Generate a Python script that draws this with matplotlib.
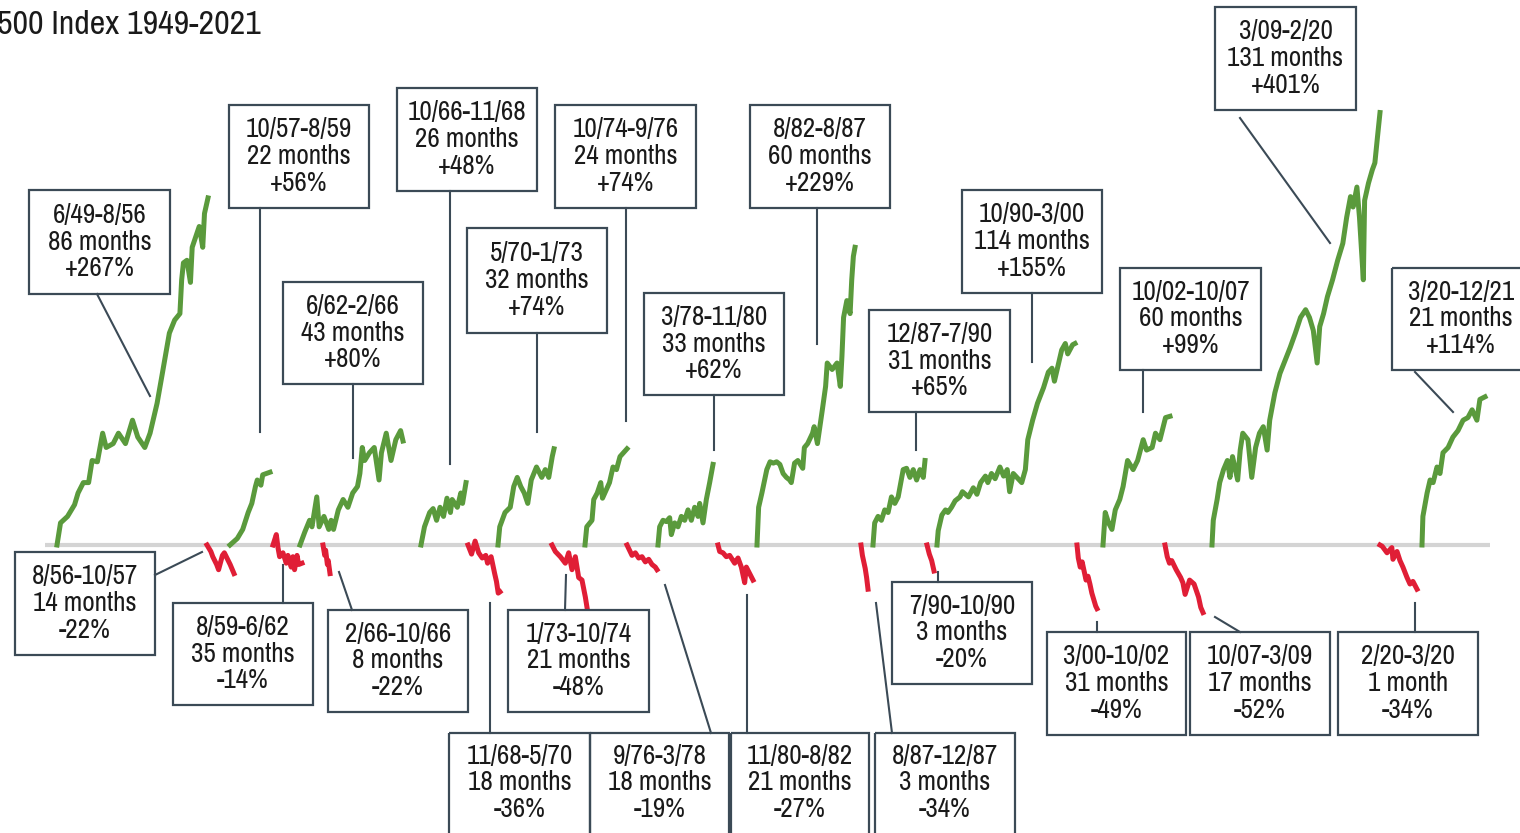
import numpy as np
import matplotlib.pyplot as plt
from matplotlib import font_manager
from matplotlib.patches import Rectangle

# Bull markets: period, length, total gain, then the path as (month, % gain) pairs
bull_period = ["6/49-8/56", "10/57-8/59", "6/62-2/66", "10/66-11/68", "5/70-1/73",
               "10/74-9/76", "3/78-11/80", "8/82-8/87", "12/87-7/90", "10/90-3/00",
               "10/02-10/07", "3/09-2/20", "3/20-12/21"]
bull_months = [86, 22, 43, 26, 32, 24, 33, 60, 31, 114, 60, 131, 21]
bull_gain = [267, 56, 80, 48, 74, 74, 62, 229, 65, 155, 99, 401, 114]

bull_t = [
    [0, 2, 6, 10, 12, 15, 18, 20, 23, 26, 28, 32, 35, 39, 43, 46, 50, 53, 57, 60, 64, 67, 70, 71, 72, 74, 76, 77, 81, 83, 84, 86],
    [0, 4, 7, 10, 12, 14, 15, 17, 18, 20, 22],
    [0, 2, 4, 5, 7, 8, 10, 12, 13, 14, 16, 18, 20, 22, 24, 25, 26, 27, 29, 31, 33, 34, 36, 38, 40, 42, 43],
    [0, 2, 5, 7, 9, 11, 13, 15, 17, 18, 21, 23, 24, 26],
    [0, 1, 4, 7, 9, 11, 13, 15, 17, 19, 22, 25, 27, 29, 31, 32],
    [0, 1, 4, 5, 7, 9, 10, 13, 14, 16, 18, 20, 22, 24],
    [0, 1, 3, 5, 7, 8, 10, 12, 14, 16, 18, 20, 22, 24, 25, 27, 29, 31, 33],
    [0, 1, 3, 6, 8, 10, 12, 14, 16, 18, 20, 21, 23, 25, 28, 29, 31, 34, 35, 37, 40, 42, 43, 46, 49, 51, 52, 53, 55, 57, 58, 59, 60],
    [0, 1, 3, 5, 7, 9, 11, 13, 15, 18, 20, 22, 24, 26, 28, 30, 31],
    [0, 1, 4, 7, 9, 12, 15, 19, 21, 26, 30, 33, 36, 40, 42, 45, 48, 52, 55, 58, 60, 63, 67, 70, 73, 75, 79, 83, 88, 92, 95, 97, 100, 103, 106, 108, 112, 114],
    [0, 2, 5, 8, 11, 15, 18, 22, 27, 31, 36, 39, 44, 47, 51, 56, 60],
    [0, 1, 4, 6, 9, 12, 14, 16, 20, 22, 24, 28, 31, 34, 37, 40, 43, 45, 49, 53, 57, 61, 65, 69, 73, 76, 79, 82, 84, 87, 90, 94, 98, 102, 105, 108, 110, 113, 115, 118, 119, 122, 125, 127, 129, 131],
    [0, 0.3, 1.7, 2.7, 3.7, 5, 6, 7, 8.7, 10.3, 12, 13.7, 15.3, 16.7, 18.3, 19.3, 21],
]
bull_pct = [
    [0, 17, 22, 31, 40, 48, 48, 65, 64, 86, 75, 78, 86, 78, 96, 83, 75, 86, 109, 132, 163, 173, 178, 204, 217, 219, 202, 229, 245, 229, 255, 267],
    [0, 5, 12, 25, 32, 45, 50, 46, 54, 55, 56],
    [0, 10, 19, 14, 37, 14, 22, 12, 19, 12, 27, 35, 29, 40, 45, 55, 75, 65, 71, 75, 50, 71, 86, 65, 81, 88, 80],
    [0, 14, 25, 28, 19, 29, 22, 36, 25, 35, 29, 40, 32, 48],
    [0, 14, 25, 29, 45, 52, 45, 40, 32, 50, 60, 52, 58, 52, 68, 74],
    [0, 14, 19, 35, 40, 48, 36, 45, 48, 60, 58, 68, 71, 74],
    [0, 14, 19, 18, 21, 8, 17, 14, 22, 19, 27, 19, 29, 22, 32, 17, 35, 48, 62],
    [0, 29, 40, 58, 64, 63, 64, 62, 55, 52, 50, 48, 63, 65, 59, 75, 78, 86, 91, 78, 104, 122, 140, 135, 140, 122, 145, 175, 188, 178, 204, 222, 229],
    [0, 17, 22, 19, 27, 25, 37, 32, 37, 58, 59, 52, 58, 50, 58, 52, 65],
    [0, 11, 23, 27, 25, 29, 34, 37, 41, 37, 44, 39, 48, 53, 48, 55, 51, 60, 53, 58, 41, 55, 51, 48, 58, 81, 96, 109, 121, 133, 136, 126, 138, 150, 155, 147, 154, 155],
    [0, 25, 17, 12, 27, 35, 45, 65, 58, 65, 81, 73, 75, 86, 81, 98, 99],
    [0, 19, 35, 48, 58, 65, 52, 68, 50, 73, 86, 81, 52, 75, 86, 91, 73, 96, 117, 132, 142, 152, 163, 175, 181, 175, 165, 140, 168, 178, 191, 204, 219, 232, 252, 269, 260, 284, 252, 204, 265, 290, 311, 322, 362, 401],
    [0, 22, 40, 50, 48, 60, 55, 71, 75, 83, 88, 96, 98, 104, 96, 112, 114],
]

# Bear markets
bear_period = ["8/56-10/57", "8/59-6/62", "2/66-10/66", "11/68-5/70", "1/73-10/74",
               "9/76-3/78", "11/80-8/82", "8/87-12/87", "7/90-10/90", "3/00-10/02",
               "10/07-3/09", "2/20-3/20"]
bear_months = [14, 35, 8, 18, 21, 18, 21, 3, 3, 31, 17, 1]
bear_gain = [-22, -14, -22, -36, -48, -19, -27, -34, -20, -49, -52, -34]

bear_t = [
    [0, 2, 3, 5, 6, 8, 9, 11, 12, 14],
    [0, 4, 6, 8, 12, 16, 18, 22, 24, 26, 29, 31, 35],
    [0, 2, 3, 5, 6, 8],
    [0, 2, 4, 6, 8, 10, 11, 13, 15, 16, 17, 18],
    [0, 2, 5, 8, 10, 12, 14, 16, 18, 20, 21],
    [0, 3, 5, 7, 9, 11, 13, 15, 17, 18],
    [0, 1, 3, 5, 7, 9, 10, 12, 14, 16, 17, 19, 21],
    [0, 0.6, 1.2, 1.8, 2.4, 3],
    [0, 1, 2, 3],
    [0, 2, 5, 8, 11, 14, 17, 20, 23, 26, 29, 31],
    [0, 1, 2, 3, 5, 7, 8, 9, 11, 13, 15, 16, 17],
    [0, 0.06, 0.19, 0.32, 0.35, 0.46, 0.54, 0.62, 0.73, 0.81, 0.89, 1.0],
]
bear_pct = [
    [0, -5, -9, -15, -19, -8, -6, -12, -15, -22],
    [0, 8, -2, -9, -6, -14, -8, -17, -9, -19, -8, -15, -14],
    [0, -8, -4, -15, -12, -22],
    [0, -7, 3, -6, -10, -8, -14, -9, -22, -28, -37, -36],
    [0, -5, -9, -14, -6, -19, -9, -25, -27, -40, -48],
    [0, -8, -6, -10, -9, -13, -11, -15, -17, -19],
    [0, -5, -6, -9, -8, -12, -14, -10, -17, -29, -17, -22, -27],
    [0, -8, -13, -18, -25, -34],
    [0, -7, -12, -20],
    [0, -10, -17, -13, -20, -27, -24, -30, -37, -42, -47, -49],
    [0, -9, -14, -12, -19, -25, -29, -38, -27, -30, -40, -48, -52],
    [0, -1, -6, -2, -11, -5, -12, -17, -25, -30, -28, -34],
]

# Layout (pixel space, origin top-left): horizontal span of each path,
# label box (x0, y0, x1, y1) and leader line
bull_span = [(57, 208), (230, 270), (300, 403), (421, 466), (498, 554), (585, 627),
             (658, 713), (757, 855), (873, 925), (937, 1075), (1103, 1170),
             (1212, 1380), (1422, 1485)]
bull_box = [(29, 190, 170, 294), (229, 105, 369, 208), (283, 282, 423, 384),
            (397, 88, 537, 191), (467, 228, 607, 333), (555, 105, 696, 208),
            (644, 293, 784, 395), (750, 105, 890, 208), (869, 310, 1010, 412),
            (962, 190, 1102, 293), (1120, 268, 1261, 370), (1215, 7, 1356, 110),
            (1392, 268, 1530, 370)]
bull_lead = [((97, 294), (150, 396)), ((260, 208), (260, 432)), ((353, 384), (353, 458)),
             ((450, 191), (450, 464)), ((537, 333), (537, 432)), ((626, 208), (626, 421)),
             ((714, 395), (714, 450)), ((817, 208), (817, 344)), ((916, 412), (916, 450)),
             ((1032, 293), (1032, 362)), ((1143, 370), (1143, 412)),
             ((1240, 118), (1330, 243)), ((1415, 372), (1453, 412))]

bear_span = [(207, 234), (273, 302), (323, 330), (468, 500), (552, 587), (627, 657),
             (718, 753), (861, 868), (927, 934), (1077, 1097), (1165, 1203), (1380, 1417)]
bear_box = [(15, 552, 155, 655), (173, 603, 313, 705), (328, 610, 468, 712),
            (449, 733, 590, 845), (508, 610, 649, 712), (590, 733, 729, 845),
            (731, 733, 869, 845), (875, 733, 1015, 845), (892, 582, 1032, 684),
            (1047, 632, 1186, 735), (1190, 632, 1330, 735), (1338, 632, 1478, 735)]
bear_lead = [((155, 575), (202, 552)), ((283, 603), (283, 565)), ((352, 610), (339, 572)),
             ((490, 733), (490, 603)), ((565, 610), (566, 575)), ((665, 585), (711, 733)),
             ((747, 595), (747, 733)), ((876, 603), (892, 733)), ((938, 572), (938, 582)),
             ((1097, 622), (1097, 632)), ((1215, 617), (1240, 632)), ((1415, 603), (1415, 632))]

W, H = 1520, 833
BASE = 545          # baseline, pixels from top
PX = 1.3            # pixels per percentage point
GREEN, RED, EDGE, GREY = "#5a9a3c", "#e01e36", "#3b4a56", "#d4d4d4"

# a narrow face if one is around, else a humanist sans a bit smaller
names = sorted({f.name for f in font_manager.fontManager.ttflist})
narrow = [n for n in names if "Narrow" in n or "Condensed" in n]
if narrow:
    FONT, SIZE, TSIZE, LSP = narrow[0], 19.5, 24.5, 1.08
else:
    FONT, SIZE, TSIZE, LSP = "Open Sans", 15, 19, 1.2
plt.rcParams["font.family"] = [FONT, "DejaVu Sans"]
plt.rcParams["font.weight"] = "light"


# big gains get squeezed so the longest run fits under the top box
def fwd(p):
    p = np.asarray(p, dtype=float)
    return np.where(p <= 267, p, 267 + (p - 267) * 0.49)


def inv(q):
    q = np.asarray(q, dtype=float)
    return np.where(q <= 267, q, 267 + (q - 267) / 0.49)


fig = plt.figure(figsize=(W / 100, H / 100), dpi=100)
ax = fig.add_axes([0, 0, 1, 1])
ax.set_yscale("function", functions=(fwd, inv))
ax.set_xlim(0, W)
ax.set_ylim(float(inv(-(H - BASE) / PX)), float(inv(BASE / PX)))
ax.axis("off")

ax.plot([45, 1490], [0, 0], color=GREY, lw=3, zorder=1, solid_capstyle="butt")

for t, p, n, (x0, x1) in zip(bull_t, bull_pct, bull_months, bull_span):
    x = x0 + np.array(t) / n * (x1 - x0)
    ax.plot(x, p, color=GREEN, lw=3.6, zorder=2)
for t, p, n, (x0, x1) in zip(bear_t, bear_pct, bear_months, bear_span):
    x = x0 + np.array(t) / n * (x1 - x0)
    ax.plot(x, p, color=RED, lw=3.6, zorder=2)

# labels drawn in pixel space on top
ann = fig.add_axes([0, 0, 1, 1], facecolor="none")
ann.set_xlim(0, W)
ann.set_ylim(H, 0)
ann.axis("off")


def label(period, months, gain, box, lead):
    x0, y0, x1, y1 = box
    ann.add_patch(Rectangle((x0, y0), x1 - x0, y1 - y0, fill=False,
                            edgecolor=EDGE, lw=1.6))
    (ax0, ay0), (ax1, ay1) = lead
    ann.plot([ax0, ax1], [ay0, ay1], color=EDGE, lw=1.5)
    unit = "month" if months == 1 else "months"
    txt = f"{period}\n{months} {unit}\n{gain:+d}%"
    cx = (x0 + x1) / 2 if x1 <= W else x0 + 69
    cy = (y0 + y1) / 2 if y1 < H else y0 + 50
    ann.text(cx, cy, txt, ha="center", va="center", fontsize=SIZE,
             color="#1a1a1a", linespacing=LSP)


for args in zip(bull_period, bull_months, bull_gain, bull_box, bull_lead):
    label(*args)
for args in zip(bear_period, bear_months, bear_gain, bear_box, bear_lead):
    label(*args)

ann.text(-3, 25, "500 Index 1949-2021", ha="left", va="center",
         fontsize=TSIZE, color="#1a1a1a")

fig.savefig("out.png", dpi=100)
